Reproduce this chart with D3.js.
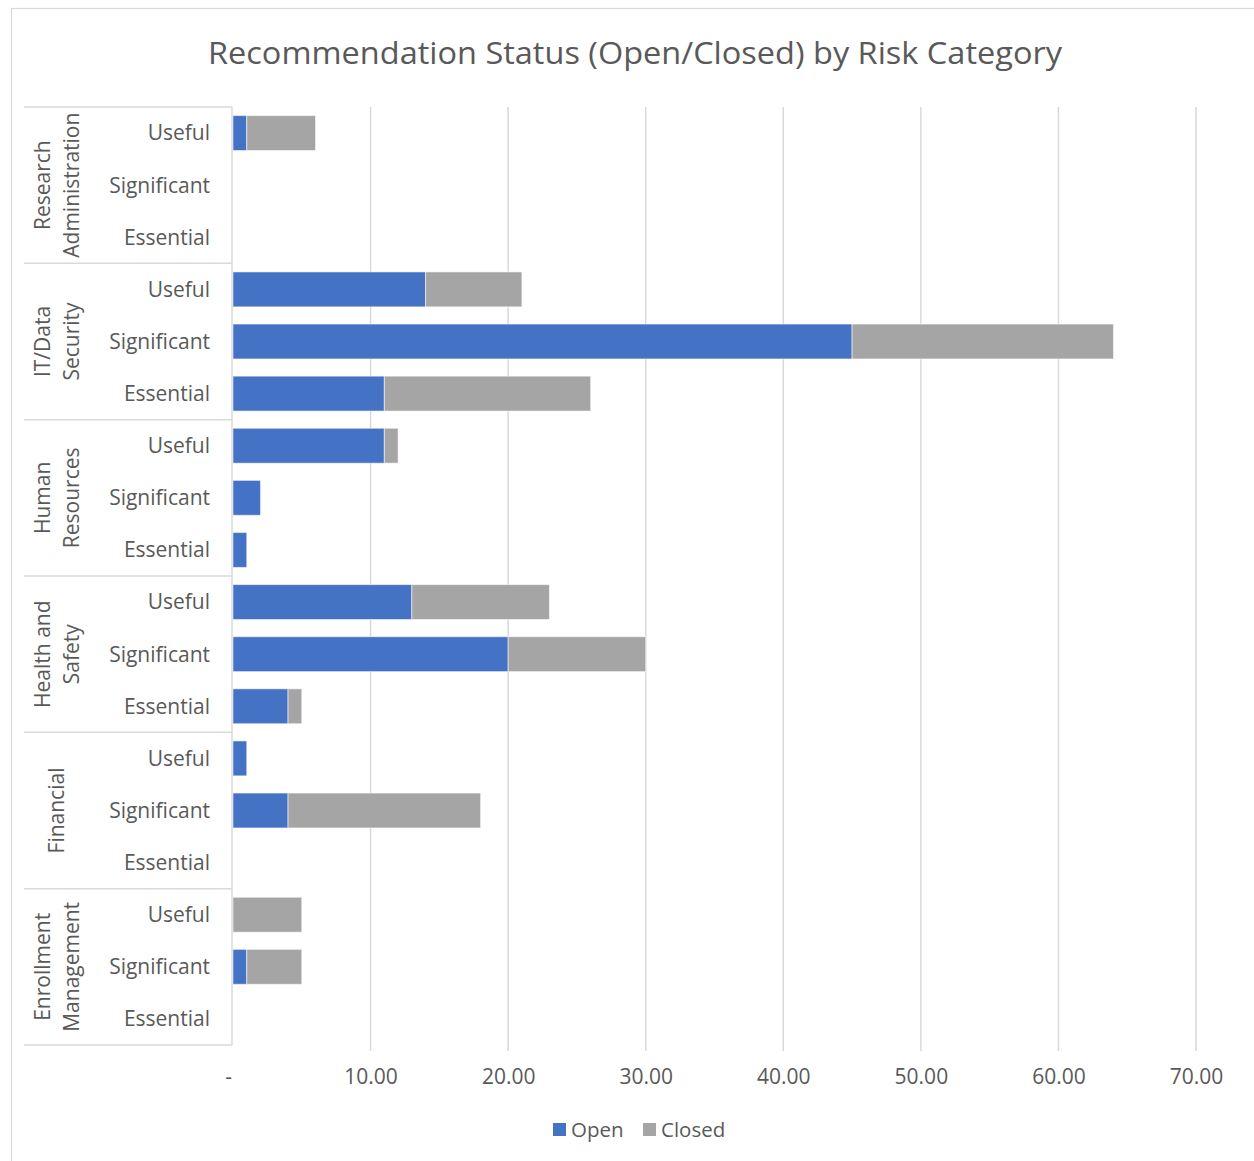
<!DOCTYPE html>
<html>
<head>
<meta charset="utf-8">
<script src="https://cdn.jsdelivr.net/npm/d3@7"></script>
<style>
  html, body { margin: 0; padding: 0; background: #fff; }
  svg text { font-family: "Open Sans", "Noto Sans", sans-serif; fill: #595959; }
</style>
</head>
<body>
<svg id="chart" width="1254" height="1161"></svg>
<script>
// Risk categories, top to bottom, each split into three priority levels
const groups = ["Research Administration", "IT/Data Security", "Human Resources",
                "Health and Safety", "Financial", "Enrollment Management"];
const groupLines = [["Research", "Administration"], ["IT/Data", "Security"], ["Human", "Resources"],
                    ["Health and", "Safety"], ["Financial"], ["Enrollment", "Management"]];
const levels = ["Useful", "Significant", "Essential"];

// Counts per group, in the order of `levels`
const openValues = [
  [1, 0, 0],
  [14, 45, 11],
  [11, 2, 1],
  [13, 20, 4],
  [1, 4, 0],
  [0, 1, 0]
];
const closedValues = [
  [5, 0, 0],
  [7, 19, 15],
  [1, 0, 0],
  [10, 10, 1],
  [0, 14, 0],
  [5, 4, 0]
];

const xTicks = [0, 10, 20, 30, 40, 50, 60, 70];
const seriesNames = ["Open", "Closed"];
const seriesColors = ["#4472C4", "#A5A5A5"];

// Flatten into one row per group/level
const rows = [];
groups.forEach((g, gi) => {
  levels.forEach((lv, li) => {
    rows.push({ key: g + "|" + lv, group: g, gi, level: lv, Open: openValues[gi][li], Closed: closedValues[gi][li] });
  });
});

const svg = d3.select("#chart");

// Chart frame
svg.append("rect")
  .attr("x", 11.5).attr("y", 8.5).attr("width", 1300).attr("height", 1300)
  .attr("fill", "none").attr("stroke", "#d9d9d9").attr("stroke-width", 1.2);

const plot = { left: 233, right: 1196, top: 107, bottom: 1045 };

const x = d3.scaleLinear().domain([0, 70]).range([plot.left, plot.right]);
const y = d3.scaleBand().domain(rows.map(r => r.key)).range([plot.top, plot.bottom]).paddingInner(0.33).paddingOuter(0.165);
const rowStep = (plot.bottom - plot.top) / rows.length;

// Title
svg.append("text")
  .attr("x", 635).attr("y", 64)
  .attr("text-anchor", "middle")
  .attr("textLength", 854).attr("lengthAdjust", "spacingAndGlyphs")
  .style("font-size", "31px")
  .text("Recommendation Status (Open/Closed) by Risk Category");

// Vertical gridlines
svg.append("g").selectAll("line").data(xTicks.slice(1)).join("line")
  .attr("x1", d => x(d)).attr("x2", d => x(d))
  .attr("y1", plot.top).attr("y2", plot.bottom + 6)
  .attr("stroke", "#d9d9d9").attr("stroke-width", 1.5);

// Value axis labels
const xAxis = d3.axisBottom(x).tickValues(xTicks).tickSize(0)
  .tickFormat(d => d === 0 ? "-" : d3.format(".2f")(d));
const gx = svg.append("g").attr("transform", `translate(0,${plot.bottom + 21})`).call(xAxis);
gx.select(".domain").remove();
gx.selectAll("text")
  .style("font-size", "21px").style("font-family", null)
  .attr("fill", "#595959")
  .attr("dx", d => d === 0 ? -5 : 0);

// Stacked bars
const stack = d3.stack().keys(seriesNames);
const stacked = stack(rows);
svg.append("g").selectAll("g").data(stacked).join("g")
  .attr("fill", (d, i) => seriesColors[i])
  .selectAll("rect").data(d => d.filter(s => s[1] - s[0] > 0)).join("rect")
  .attr("x", d => x(d[0]))
  .attr("width", d => x(d[1]) - x(d[0]))
  .attr("y", d => y(d.data.key))
  .attr("height", y.bandwidth())
  .attr("stroke", "#ffffff").attr("stroke-opacity", 0.55).attr("stroke-width", 1);

// Category axis: axis line and group separators
const catAxis = svg.append("g").attr("stroke", "#d9d9d9").attr("stroke-width", 1.5);
catAxis.append("line")
  .attr("x1", plot.left - 1).attr("x2", plot.left - 1)
  .attr("y1", plot.top).attr("y2", plot.bottom);
catAxis.selectAll("line.sep").data(d3.range(groups.length + 1)).join("line")
  .attr("class", "sep")
  .attr("x1", 24).attr("x2", plot.left - 1)
  .attr("y1", i => plot.top + i * 3 * rowStep)
  .attr("y2", i => plot.top + i * 3 * rowStep);

// Level labels
svg.append("g").selectAll("text").data(rows).join("text")
  .attr("x", 210)
  .attr("y", d => y(d.key) + y.bandwidth() / 2)
  .attr("dy", "0.35em")
  .attr("text-anchor", "end")
  .style("font-size", "21px")
  .text(d => d.level);

// Group labels, rotated
const gLabels = svg.append("g").selectAll("g").data(groups).join("g")
  .attr("transform", (d, i) => `translate(57,${plot.top + (i + 0.5) * 3 * rowStep}) rotate(-90)`);
gLabels.each(function (d, i) {
  const lines = groupLines[i];
  const g = d3.select(this);
  lines.forEach((ln, li) => {
    g.append("text")
      .attr("x", 0)
      .attr("y", (li - (lines.length - 1) / 2) * 29)
      .attr("dy", "0.35em")
      .attr("text-anchor", "middle")
      .style("font-size", "21px")
      .text(ln);
  });
});

// Legend
const legend = svg.append("g").attr("transform", "translate(553,1130)");
const items = [{ name: "Open", x: 0 }, { name: "Closed", x: 90 }];
items.forEach((it, i) => {
  legend.append("rect").attr("x", it.x).attr("y", -7).attr("width", 13).attr("height", 13)
    .attr("fill", seriesColors[i]);
  legend.append("text").attr("x", it.x + 18).attr("y", 0).attr("dy", "0.35em")
    .style("font-size", "20.5px").text(it.name);
});
</script>
</body>
</html>
